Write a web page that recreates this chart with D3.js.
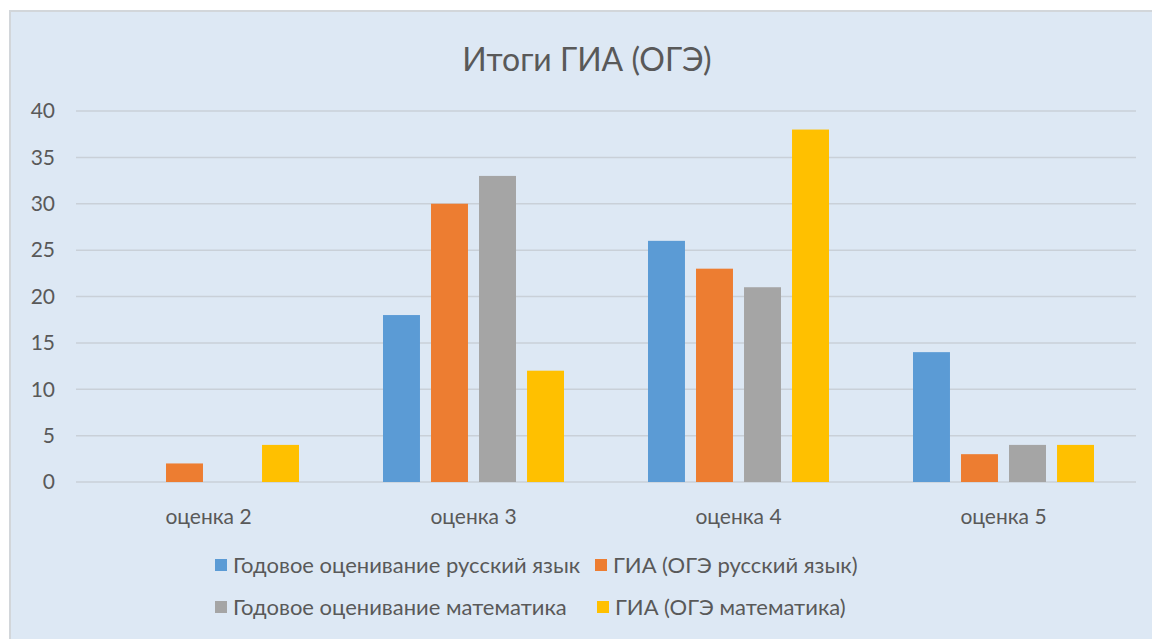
<!DOCTYPE html>
<html><head><meta charset="utf-8">
<script src="https://cdn.jsdelivr.net/npm/d3@7"></script>
<style>html,body{margin:0;padding:0;background:#fff;}svg{display:block;}</style>
</head><body>
<svg id="c" width="1152" height="639"></svg>
<script>
const categories = ["оценка 2", "оценка 3", "оценка 4", "оценка 5"];
const seriesNames = ["Годовое оценивание русский язык", "ГИА (ОГЭ русский язык)", "Годовое оценивание математика", "ГИА (ОГЭ математика)"];
const godRus = [0, 18, 26, 14];
const giaRus = [2, 30, 23, 3];
const godMat = [0, 33, 21, 4];
const giaMat = [4, 12, 38, 4];
const yTicks = [0, 5, 10, 15, 20, 25, 30, 35, 40];
const colors = ["#5b9bd5", "#ed7d31", "#a5a5a5", "#ffc000"];
const title = "Итоги ГИА (ОГЭ)";

const seriesValues = [godRus, giaRus, godMat, giaMat];
const svg = d3.select("#c");
const font = "Lato, sans-serif";

svg.append("rect").attr("x", 10).attr("y", 11).attr("width", 1150).attr("height", 640)
  .attr("fill", "#dde8f4").attr("stroke", "#d2d6da").attr("stroke-width", 2);

const x0 = d3.scaleBand().domain(categories).range([76, 1136]);
const y = d3.scaleLinear().domain([0, 40]).range([482, 111]);
const x1 = d3.scaleBand().domain(d3.range(4)).range([0, 181]).paddingInner(0.23);

svg.append("g").selectAll("line").data(yTicks).join("line")
  .attr("x1", 76).attr("x2", 1136)
  .attr("y1", d => y(d)).attr("y2", d => y(d))
  .attr("stroke", "#c9d0d8").attr("stroke-width", 1.5);

svg.append("g").selectAll("text").data(yTicks).join("text")
  .attr("x", 55).attr("y", d => y(d)).attr("dy", "0.35em")
  .attr("text-anchor", "end").attr("font-family", font).attr("font-size", 21)
  .attr("fill", "#595959").text(d => d);

categories.forEach((c, ci) => {
  const gx = x0(c) + x0.bandwidth() / 2 - 90.5;
  seriesValues.forEach((vals, si) => {
    if (vals[ci] > 0) {
      svg.append("rect")
        .attr("x", gx + x1(si)).attr("width", x1.bandwidth())
        .attr("y", y(vals[ci])).attr("height", y(0) - y(vals[ci]))
        .attr("fill", colors[si]);
    }
  });
});

svg.append("g").selectAll("text").data(categories).join("text")
  .attr("x", d => x0(d) + x0.bandwidth() / 2).attr("y", 524)
  .attr("text-anchor", "middle").attr("font-family", font).attr("font-size", 21)
  .attr("fill", "#595959").text(d => d);

svg.append("text").attr("x", 587).attr("y", 71).attr("text-anchor", "middle")
  .attr("font-family", font).attr("font-size", 32).attr("fill", "#595959").text(title);

const legendPos = [[215, 565], [595, 565], [215, 607], [597, 607]];
seriesNames.forEach((n, i) => {
  const [lx, ly] = legendPos[i];
  svg.append("rect").attr("x", lx).attr("y", ly - 6).attr("width", 12).attr("height", 12).attr("fill", colors[i]);
  svg.append("text").attr("x", lx + 18).attr("y", ly).attr("dy", "0.35em")
    .attr("font-family", font).attr("font-size", 22).attr("fill", "#595959").text(n);
});
</script>
</body></html>
